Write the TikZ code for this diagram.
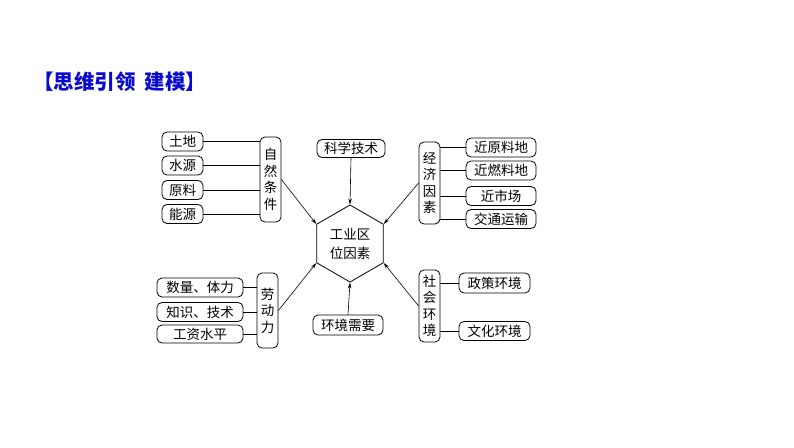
\documentclass[tikz,border=0pt]{standalone}
\usepackage{fontspec}
\newfontfamily\cjk{Noto Sans CJK SC}
\usetikzlibrary{shapes.geometric, arrows.meta}
\definecolor{titleblue}{RGB}{10,10,205}
\tikzstyle{box} = [draw, rounded corners=5pt, line width=0.8pt, inner sep=0pt, font=\cjk\fontsize{13.5}{15}\selectfont]
\tikzstyle{vbox} = [box, align=center, minimum width=21pt, font=\cjk\fontsize{13.5}{16.5}\selectfont]
\tikzstyle{link} = [line width=0.6pt]
\tikzstyle{arrow} = [line width=0.6pt, -{Stealth[length=6pt,width=3.5pt]}]

\begin{document}
\begin{tikzpicture}[x=1pt,y=1pt,yscale=-1,xscale=1]
\useasboundingbox (0,0) rectangle (794,447);

% Title
\node (title) at (33,82) [anchor=west, inner sep=0pt, text=titleblue, font=\cjk\bfseries\fontsize{20.5}{23}\selectfont] {【思维引领\hspace{0.45em}建模】};

% Center
\node (hex) at (350,243.5) [draw, line width=0.8pt, regular polygon, regular polygon sides=6, shape border rotate=30, minimum size=77pt, inner sep=0pt, align=center, font=\cjk\fontsize{13.5}{19}\selectfont] {工业区\\位因素};

% Natural conditions
\node (tudi) at (182.5,141.5) [box, minimum width=41pt, minimum height=19pt] {土地};
\node (shuiyuan) at (182.5,165.5) [box, minimum width=41pt, minimum height=19pt] {水源};
\node (yuanliao) at (182.5,190) [box, minimum width=41pt, minimum height=19pt] {原料};
\node (nengyuan) at (182.5,214) [box, minimum width=41pt, minimum height=19pt] {能源};
\node (ziran) at (270.5,179.5) [vbox, minimum height=85pt] {自\\然\\条\\件};
\draw [link] (tudi.east) -- (tudi.east -| ziran.west);
\draw [link] (shuiyuan.east) -- (shuiyuan.east -| ziran.west);
\draw [link] (yuanliao.east) -- (yuanliao.east -| ziran.west);
\draw [link] (nengyuan.east) -- (nengyuan.east -| ziran.west);

% Science
\node (keji) at (351,148.5) [box, minimum width=68pt, minimum height=18pt] {科学技术};

% Economy
\node (jingji) at (429.5,183) [vbox, minimum height=82pt] {经\\济\\因\\素};
\node (jinyuan) at (501,147.5) [box, minimum width=70pt, minimum height=19pt] {近原料地};
\node (jinran) at (501,170.5) [box, minimum width=70pt, minimum height=19pt] {近燃料地};
\node (jinshi) at (501,196) [box, minimum width=70pt, minimum height=19pt] {近市场};
\node (jiaotong) at (501,219) [box, minimum width=70pt, minimum height=19pt] {交通运输};
\draw [link] (jingji.east |- jinyuan.west) -- (jinyuan.west);
\draw [link] (jingji.east |- jinran.west) -- (jinran.west);
\draw [link] (jingji.east |- jinshi.west) -- (jinshi.west);
\draw [link] (jingji.east |- jiaotong.west) -- (jiaotong.west);

% Society
\node (shehui) at (429.5,306) [vbox, minimum height=72pt] {社\\会\\环\\境};
\node (zhengce) at (494.5,283) [box, minimum width=71pt, minimum height=20pt] {政策环境};
\node (wenhua) at (494.5,331) [box, minimum width=71pt, minimum height=19pt] {文化环境};
\draw [link] (shehui.east |- zhengce.west) -- (zhengce.west);
\draw [link] (shehui.east |- wenhua.west) -- (wenhua.west);

% Environment
\node (huanjing) at (348,325) [box, minimum width=70pt, minimum height=20pt] {环境需要};

% Labour
\node (laodong) at (267.5,310.5) [vbox, minimum height=75pt] {劳\\动\\力};
\node (shuliang) at (200,287.5) [box, minimum width=86pt, minimum height=19pt] {数量、体力};
\node (zhishi) at (200,312) [box, minimum width=86pt, minimum height=19pt] {知识、技术};
\node (gongzi) at (200,334) [box, minimum width=86pt, minimum height=18pt] {工资水平};
\draw [link] (shuliang.east) -- (shuliang.east -| laodong.west);
\draw [link] (zhishi.east) -- (zhishi.east -| laodong.west);
\draw [link] (gongzi.east) -- (gongzi.east -| laodong.west);

% Arrows
\draw [arrow] (ziran.east) -- (hex.150);
\draw [arrow] (keji.south) -- (hex.90);
\draw [arrow] (jingji.west) -- (hex.30);
\draw [arrow] (shehui.west) -- (hex.330);
\draw [arrow] (huanjing.north) -- (hex.270);
\draw [arrow] (laodong.east) -- (hex.210);

\end{tikzpicture}
\end{document}
